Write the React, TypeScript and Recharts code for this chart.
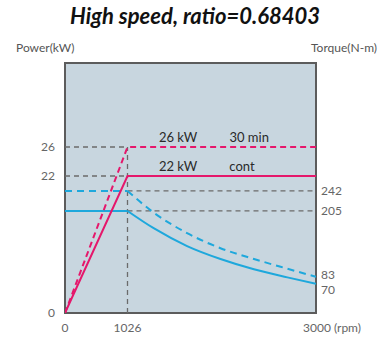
import React from "react";
import {
  ComposedChart,
  Line,
  XAxis,
  YAxis,
  ReferenceArea,
  ReferenceDot,
} from "recharts";

// --- data ---
const rpmTicks = [0, 1026, 3000];
const powerTicks = [0, 22, 26];
const torqueTicks = [70, 83, 205, 242];

const powerCont = [
  { rpm: 0, kw: 0 },
  { rpm: 1026, kw: 22 },
  { rpm: 3000, kw: 22 },
];
const power30 = [
  { rpm: 0, kw: 0 },
  { rpm: 1026, kw: 26 },
  { rpm: 3000, kw: 26 },
];

const torqueContFlat = [
  { rpm: 0, nm: 205 },
  { rpm: 1026, nm: 205 },
];
const torqueContCurve = [
  { rpm: 1026, nm: 205 },
  { rpm: 1300, nm: 173 },
  { rpm: 1650, nm: 140 },
  { rpm: 2000, nm: 116 },
  { rpm: 2350, nm: 97 },
  { rpm: 2700, nm: 82 },
  { rpm: 3000, nm: 70 },
];
const torque30Flat = [
  { rpm: 0, nm: 242 },
  { rpm: 1026, nm: 242 },
];
const torque30Curve = [
  { rpm: 1026, nm: 242 },
  { rpm: 1300, nm: 202 },
  { rpm: 1650, nm: 164 },
  { rpm: 2000, nm: 136 },
  { rpm: 2350, nm: 116 },
  { rpm: 2700, nm: 98 },
  { rpm: 3000, nm: 83 },
];

// grey guide lines
const guide26 = [
  { rpm: 0, kw: 26 },
  { rpm: 1026, kw: 26 },
];
const guide22 = [
  { rpm: 0, kw: 22 },
  { rpm: 1026, kw: 22 },
];
const guideBase = [
  { rpm: 1026, kw: 0 },
  { rpm: 1026, kw: 26 },
];
const guide242 = [
  { rpm: 1026, nm: 242 },
  { rpm: 3000, nm: 242 },
];
const guide205 = [
  { rpm: 1026, nm: 205 },
  { rpm: 3000, nm: 205 },
];

const curveLabels = [
  { rpm: 1555, kw: 26, text: "26 kW" },
  { rpm: 2300, kw: 26, text: "30 min" },
  { rpm: 1555, kw: 22, text: "22 kW" },
  { rpm: 2225, kw: 22, text: "cont" },
];

// --- style ---
const PINK = "#e5176b";
const BLUE = "#1ea8dc";
const GREY = "#6b6b6b";
const BG = "#c8d6df";
const FONT = "Lato, 'Open Sans', sans-serif";
const TICK = { fontSize: 12, fill: "#666", fontFamily: FONT };

// the original axes are drawn schematically, not to scale
function piecewiseScale(stops: number[], fracs: number[]) {
  let dom = [stops[0], stops[stops.length - 1]];
  let rng = [0, 1];
  const scale: any = (v: number) => {
    let i = 0;
    while (i < stops.length - 2 && v > stops[i + 1]) i++;
    const t = (v - stops[i]) / (stops[i + 1] - stops[i]);
    const f = fracs[i] + t * (fracs[i + 1] - fracs[i]);
    return rng[0] + f * (rng[1] - rng[0]);
  };
  scale.domain = (d?: number[]) => {
    if (d === undefined) return dom.slice();
    dom = d.slice();
    return scale;
  };
  scale.range = (r?: number[]) => {
    if (r === undefined) return rng.slice();
    rng = r.slice();
    return scale;
  };
  scale.invert = (px: number) => {
    const f = (px - rng[0]) / (rng[1] - rng[0]);
    let i = 0;
    while (i < fracs.length - 2 && f > fracs[i + 1]) i++;
    const t = (f - fracs[i]) / (fracs[i + 1] - fracs[i]);
    return stops[i] + t * (stops[i + 1] - stops[i]);
  };
  scale.ticks = () => stops.slice();
  scale.copy = () => piecewiseScale(stops, fracs).domain(dom).range(rng);
  return scale;
}

const rpmScale = piecewiseScale([0, 1026, 3000], [0, 0.249, 1]);
const powerScale = piecewiseScale([0, 22, 26, 40], [0, 0.548, 0.664, 1]);

const torqueShift: Record<number, number> = { 83: -2, 70: 6 };

function TorqueTick(props: any) {
  const { x, y, payload } = props;
  const dy = torqueShift[payload.value] ?? 0;
  return (
    <text x={x} y={y + dy} dy="0.355em" textAnchor="start" {...TICK}>
      {payload.value}
    </text>
  );
}

function RpmTick(props: any) {
  const { x, y, payload } = props;
  const last = payload.value === 3000;
  return (
    <text
      x={last ? x - 13 : x}
      y={y}
      dy="0.71em"
      textAnchor={last ? "start" : "middle"}
      {...TICK}
    >
      {last ? "3000 (rpm)" : payload.value}
    </text>
  );
}

export default function App() {
  return (
    <div
      style={{
        position: "absolute",
        left: 0,
        top: 0,
        width: 379,
        height: 338,
        background: "#fff",
        fontFamily: FONT,
      }}
    >
      <div
        style={{
          position: "absolute",
          top: 2,
          left: 0,
          width: 390,
          textAlign: "center",
          fontSize: 22,
          fontWeight: 700,
          fontStyle: "italic",
          color: "#111",
        }}
      >
        High speed, ratio=0.68403
      </div>
      <div style={{ position: "absolute", top: 40, left: 16, fontSize: 12, color: "#555" }}>
        Power(kW)
      </div>
      <div style={{ position: "absolute", top: 40, right: 2, fontSize: 12, color: "#555" }}>
        Torque(N-m)
      </div>
      <ComposedChart
        width={379}
        height={338}
        margin={{ top: 63, right: 18, bottom: 0, left: 20 }}
      >
        <XAxis
          dataKey="rpm"
          type="number"
          domain={[0, 3000]}
          scale={rpmScale}
          ticks={rpmTicks}
          tick={<RpmTick />}
          interval={0}
          axisLine={false}
          tickLine={false}
          tickSize={0}
          tickMargin={10}
          height={25}
          allowDataOverflow
        />
        <YAxis
          yAxisId="p"
          type="number"
          domain={[0, 40]}
          scale={powerScale}
          ticks={powerTicks}
          tick={TICK}
          interval={0}
          axisLine={false}
          tickLine={false}
          tickSize={0}
          tickMargin={10}
          width={45}
          allowDataOverflow
        />
        <YAxis
          yAxisId="t"
          orientation="right"
          type="number"
          domain={[16, 479]}
          ticks={torqueTicks}
          tick={<TorqueTick />}
          interval={0}
          axisLine={false}
          tickLine={false}
          tickSize={0}
          tickMargin={5}
          width={45}
          allowDataOverflow
        />
        <ReferenceArea
          yAxisId="p"
          x1={0}
          x2={3000}
          y1={0}
          y2={40}
          fill={BG}
          fillOpacity={1}
          stroke="#5c5c5c"
          strokeWidth={2}
        />

        {[guide26, guide22, guideBase].map((d, i) => (
          <Line
            key={`gp${i}`}
            yAxisId="p"
            data={d}
            dataKey="kw"
            stroke={GREY}
            strokeWidth={1.3}
            strokeDasharray="5 4"
            dot={false}
            activeDot={false}
            isAnimationActive={false}
          />
        ))}
        {[guide242, guide205].map((d, i) => (
          <Line
            key={`gt${i}`}
            yAxisId="t"
            data={d}
            dataKey="nm"
            stroke={GREY}
            strokeWidth={1.3}
            strokeDasharray="5 4"
            dot={false}
            activeDot={false}
            isAnimationActive={false}
          />
        ))}

        <Line yAxisId="t" data={torque30Flat} dataKey="nm" stroke={BLUE} strokeWidth={2}
          strokeDasharray="7 5" dot={false} activeDot={false} isAnimationActive={false} />
        <Line yAxisId="t" data={torque30Curve} dataKey="nm" type="monotone" stroke={BLUE}
          strokeWidth={2} strokeDasharray="7 5" dot={false} activeDot={false} isAnimationActive={false} />
        <Line yAxisId="t" data={torqueContFlat} dataKey="nm" stroke={BLUE} strokeWidth={2}
          dot={false} activeDot={false} isAnimationActive={false} />
        <Line yAxisId="t" data={torqueContCurve} dataKey="nm" type="monotone" stroke={BLUE}
          strokeWidth={2} dot={false} activeDot={false} isAnimationActive={false} />

        <Line yAxisId="p" data={power30} dataKey="kw" stroke={PINK} strokeWidth={2}
          strokeDasharray="6 4" dot={false} activeDot={false} isAnimationActive={false} />
        <Line yAxisId="p" data={powerCont} dataKey="kw" stroke={PINK} strokeWidth={2}
          dot={false} activeDot={false} isAnimationActive={false} />

        {curveLabels.map((l) => (
          <ReferenceDot
            key={l.text}
            yAxisId="p"
            x={l.rpm}
            y={l.kw}
            r={0}
            stroke="none"
            fill="none"
            label={{
              value: l.text,
              position: "top",
              offset: 5,
              fontSize: 13,
              fill: "#2a2a2a",
              fontFamily: FONT,
            }}
          />
        ))}
      </ComposedChart>
    </div>
  );
}
